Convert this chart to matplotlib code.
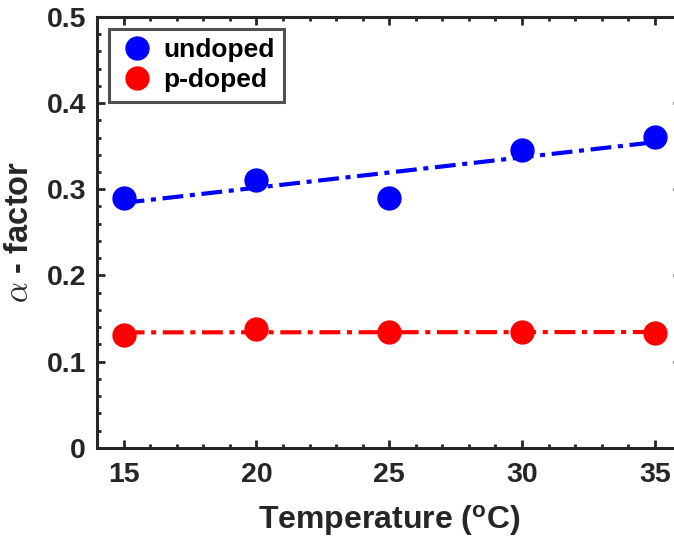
import numpy as np
import matplotlib
matplotlib.use('Agg')
import matplotlib.pyplot as plt
from matplotlib.ticker import MultipleLocator

plt.rcParams['font.family'] = ['Liberation Sans', 'DejaVu Sans']
plt.rcParams['font.weight'] = 'bold'
plt.rcParams['axes.labelweight'] = 'bold'
plt.rcParams['mathtext.fontset'] = 'cm'

# data
temperature = [15, 20, 25, 30, 35]
alpha_undoped = [0.290, 0.311, 0.290, 0.345, 0.361]
alpha_pdoped = [0.131, 0.138, 0.134, 0.135, 0.133]

dark = '#262626'

fig = plt.figure(figsize=(6.74, 5.41), dpi=100)
ax = fig.add_axes([0.144, 0.172, 0.867, 0.797])

# linear fits
t = np.array(temperature, dtype=float)
for vals, col in [(alpha_undoped, 'blue'), (alpha_pdoped, 'red')]:
    p = np.polyfit(t, vals, 1)
    ax.plot(t, np.polyval(p, t), color=col, lw=3, ls=(0, (5, 1.6, 1.2, 1.6)), zorder=2)

ax.plot(temperature, alpha_undoped, 'o', color='blue', ms=16.5, ls='none', label='undoped', zorder=3)
ax.plot(temperature, alpha_pdoped, 'o', color='red', ms=16.5, ls='none', label='p-doped', zorder=3)

ax.set_xlim(14, 36)
ax.set_ylim(0, 0.5)
ax.xaxis.set_major_locator(MultipleLocator(5))
ax.xaxis.set_minor_locator(MultipleLocator(1))
ax.yaxis.set_minor_locator(MultipleLocator(0.02))
ax.set_yticks([0, 0.1, 0.2, 0.3, 0.4, 0.5])
ax.set_yticklabels(['0', '0.1', '0.2', '0.3', '0.4', '0.5'])

ax.tick_params(which='both', direction='in', top=True, right=True, colors=dark,
               labelsize=20.5, width=2)
ax.tick_params(which='major', length=5.5)
ax.tick_params(which='minor', length=3)
ax.tick_params(axis='x', which='major', pad=10)
ax.tick_params(axis='y', which='major', pad=8)
for s in ax.spines.values():
    s.set_linewidth(2.2)
    s.set_color(dark)

ax.set_xlabel('Temperature ($\\mathregular{^{o}}$C)', fontsize=23, color=dark, labelpad=11)
ax.set_ylabel('$\\alpha$ - factor', fontsize=23.5, color=dark, labelpad=8)

leg = ax.legend(loc='upper left', fontsize=19, frameon=True, fancybox=False,
                handletextpad=0.3, borderpad=0.35, labelspacing=0.25,
                handlelength=1.4, borderaxespad=0.45)
leg.get_frame().set_edgecolor(dark)
leg.get_frame().set_linewidth(2.2)

fig.savefig('out.png', dpi=100)
